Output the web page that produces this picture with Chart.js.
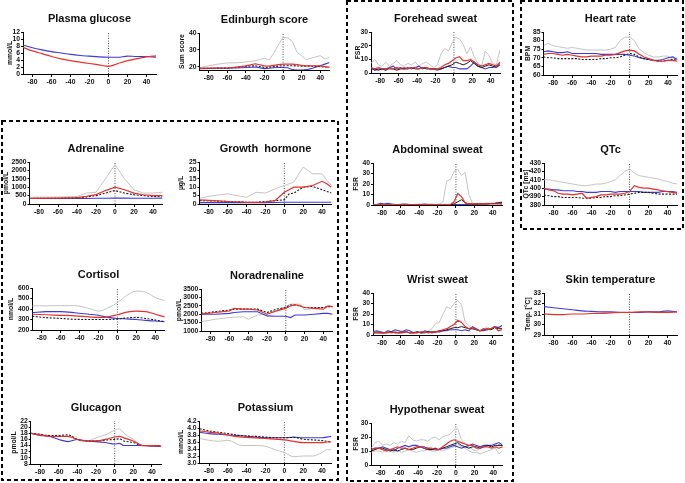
<!DOCTYPE html>
<html>
<head>
<meta charset="utf-8">
<script src="https://cdn.jsdelivr.net/npm/chart.js@4.4.1/dist/chart.umd.min.js"></script>
<style>
  body { margin: 0; background: #fff; }
  #fig { position: relative; width: 685px; height: 483px; overflow: hidden; }
  #fig canvas { position: absolute; }
</style>
</head>
<body>
<div id="fig"><canvas id="boxes" width="685" height="483" style="left:0;top:0"></canvas></div>
<script>
// time axes (minutes)
const xTicks = [-80, -60, -40, -20, 0, 20, 40];
const tSweat = [-90,-86,-82,-78,-74,-70,-66,-62,-58,-54,-50,-46,-42,-38,-34,-30,-26,-22,-18,-14,-10,-6,-2,2,6,10,14,18,22,26,30,34,38,42,46,50];
const tEcg = [-90,-85,-80,-75,-70,-65,-60,-55,-50,-45,-40,-35,-30,-25,-20,-15,-10,-5,0,5,10,15,20,25,30,35,40,45,50];

// Plasma glucose
const glucoseT = [-90,-80,-70,-60,-50,-40,-30,-20,-10,0,10,20,30,40,50];
const glucoseRed = [7.6,6.6,5.8,5.0,4.3,3.8,3.4,3.0,2.6,2.2,3.0,3.8,4.4,4.9,5.2];
const glucoseBlue = [8.3,7.5,6.9,6.4,6.0,5.6,5.3,5.1,4.9,4.8,4.8,5.1,5.0,5.0,4.8];
const glucoseTicks = [0,2,4,6,8,10,12];

// Edinburgh score
const edinT = [-90,-80,-70,-60,-50,-40,-30,-20,-15,-10,-5,0,5,10,15,20,25,30,40,45,50];
const edinGrey = [19.2,20.5,21.5,22.2,22.3,22.8,23.5,25,24,28,33,37.4,37,35,28.5,26.5,24.2,25,26.5,24.5,25.5];
const edinRed = [19,19.1,19.2,19.2,19.8,20.5,21.7,20.5,20.3,20.8,21.2,21.5,21.5,21.5,21.2,20.8,20.5,20.5,20.5,20,19.6];
const edinBlue = [18.8,18.9,19,19,19.2,19.5,19.8,18.8,19,19.3,19.5,19.5,19.3,18.2,18,18,18.2,18.8,20.5,21.5,22.5];
const edinBlack = [19,19,19.1,19.2,19.6,20.2,20.5,19.5,19.7,20,20.3,20.5,20.5,20.5,20.4,20.3,20.3,20.3,20,19.8,19.7];
const edinTicks = [20,30,40];

// Forehead sweat
const foreGrey = [7,10,6,5,8,5,7,9,6,5,7,6,8,5,7,8,6,4,6,14,18,16,22,26,25,21,14,19,12,7,5,16,13,7,6,17];
const foreRed = [4,3,4,3,3,4,3,4,3,4,3,4,4,3,4,4,3,3,3,4,6,7,9,11,12,9,9,10,8,6,5,6,7,6,5,8];
const foreBlack = [3,3,2,3,3,3,3,2,3,3,3,4,3,3,4,3,3,3,3,3,4,5,6,8,7,6,7,9,7,5,4,5,6,5,4,6];
const foreBlue = [4,2,3,3,2,4,5,3,4,3,4,3,4,5,3,4,3,3,2,3,4,5,4,4,3,3,3,5,8,5,4,3,4,4,5,7];

// Abdominal sweat
const abdGrey = [0.5,0.5,0.5,1,0.5,0.5,0.5,0.5,0.5,0.5,0.5,0.5,1,1,0.5,1,1,0.5,1,3,23,24,32,34,28,31,10,1.5,1.5,1.5,1.5,2,1.5,2,2.5,3];
const abdRed = [0.5,0.5,0.5,0.5,0.5,0.5,0.5,0.5,0.5,0.5,0.5,0.5,0.5,0.5,0.5,0.5,0.5,0.5,0.5,0.5,0.5,0.5,3,11,8,2,1,1,1,1,1,1,1,1,1,1];
const abdBlack = [0.3,0.3,0.3,0.3,0.3,0.3,0.3,0.3,0.3,0.3,0.3,0.3,0.3,0.3,0.3,0.3,0.3,0.3,0.3,0.5,0.5,0.5,1,3,5,2,1,1,1,1,1,1,1.5,1.5,2,2.5];
const abdBlue = [0.5,0.5,1.5,1,1.5,1,0.5,0.5,1,1,0.5,0.5,0.5,0.5,1,0.5,0.5,0.5,0.5,0.5,0.5,0.5,0.5,0.5,0.5,0.5,0.5,0.5,0.5,1,1,1,1.5,1.5,2,1];

// Wrist sweat
const wristGrey = [3,2,3,2,4,3,2,3,4,3,2,3,2,3,3,4,6,11,12,20,27,25,30,33,29,12,9,5,6,4,5,8,5,7,8,6];
const wristRed = [2,3,2,2,3,2,3,2,3,3,2,2,2,3,3,2,3,3,4,5,6,8,10,14,12,8,6,7,5,4,6,5,6,8,4,5];
const wristBlack = [2,2,2,2,2,3,2,2,2,3,2,2,3,2,2,3,3,3,4,4,5,6,7,7,8,7,6,6,5,4,5,6,5,7,6,6];
const wristBlue = [3,4,3,2,4,3,5,4,3,5,4,2,3,2,4,3,2,3,3,4,4,5,5,5,4,5,4,8,6,4,4,5,6,8,7,9];

// Hypothenar sweat
const hypoGreyHi = [12,16,17,14,15,14,16,15,17,16,21,18,17,18,18,17,19,20,18,20,21,22,25,26,18,15,13,11,10,12,14,14,13,12,15,12];
const hypoGreyLo = [9,10,10,9,11,10,9,10,9,10,11,10,9,10,10,11,10,10,11,10,11,12,13,15,13,12,10,9,9,8,9,10,11,12,8,10];
const hypoRed = [11,12,12,11,10,11,12,13,12,12,11,12,13,13,12,12,12,11,11,13,15,17,18,17,16,15,14,14,12,12,13,13,12,13,12,13];
const hypoBlack = [10,11,12,12,11,10,11,10,11,12,11,11,12,13,12,11,11,11,11,12,13,14,15,16,14,13,12,13,13,12,13,14,13,14,14,14];
const hypoBlue = [11,12,12,13,12,11,10,12,13,14,13,14,14,13,13,12,11,12,11,12,12,13,14,13,12,13,14,15,14,13,14,14,14,15,16,14];
const fsr30Ticks = [0,10,20,30];
const fsr40Ticks = [0,10,20,30,40];

// Heart rate
const hrGrey = [77,78.5,77,76.5,76,75.5,76,75.5,75,74.5,74.5,74.5,74.5,74.5,75,76,80,82,82,80,75,73,71.5,70.5,70.5,71,71,69,70];
const hrBlue = [73.5,74,73.5,73,73,73.5,72.5,72.5,72.5,72.5,72.5,72.5,72,72,72,72,72,72,71.5,71,70,69.5,69,68.5,68.5,69,70,70.5,69];
const hrRed = [72,72.5,72.5,72,71.5,72,71.5,71,70.5,70.5,71,71,71,71.5,71.5,72,73,74,74.5,74,72,70.5,69.5,68.5,68,68,68.5,68.5,68];
const hrBlack = [70.5,70,70,69.5,69.5,69.5,69.5,69.5,69,69,69,69,69.5,69.5,70,70,70.5,71.5,72.5,72,70.5,69.5,69,68.5,68,68,68.5,69,68.5];
const hrTicks = [60,65,70,75,80,85];

// QTc
const qtcGrey = [410,410,409,408,407,406,405,404,403,403,404,405,405,406,408,410,415,420,423,418,415,414,413,412,411,409,408,406,405];
const qtcBlue = [399,399,398,398,397,397,397,396,396,395,395,395,396,396,396,395,396,396,396,396,396,395,395,395,395,396,396,396,395];
const qtcRed = [400,398,397,394,393,393,392,393,394,388,389,390,392,392,393,393,393,394,396,403,401,400,400,399,398,397,396,395,394];
const qtcBlack = [392,391,390,390,389,389,389,389,388,388,388,389,389,390,390,391,391,392,393,394,395,395,395,394,393,393,393,393,393];
const qtcTicks = [380,390,400,410,420,430];

// Adrenaline
const hormT = [-90,-60,-40,-30,-20,-10,0,10,20,30,40,50];
const adrGrey = [400,420,450,650,700,1500,2350,1500,850,650,650,700];
const adrRed = [330,350,380,450,560,800,1000,850,650,550,500,500];
const adrBlack = [330,340,370,420,500,650,800,650,550,500,450,460];
const adrBlue = [330,330,330,330,340,340,350,350,340,340,340,350];
const adrTicks = [0,500,1000,1500,2000,2500];

// Growth hormone
const ghT = [-90,-75,-60,-45,-40,-30,-20,-10,0,5,10,20,30,40,45,50];
const ghGrey = [3.5,5,6,4.5,4,7,6.5,9,11,12,13,22,18,18,14,11];
const ghRed = [2.5,2,1.5,1.2,1,1,1.2,2,7,8.5,10,10,11,13.5,12,10];
const ghBlack = [2,1.8,1.5,1.2,1,1,1.5,2,2.5,6,6.5,10,10.5,8.5,7.5,6.5];
const ghBlue = [0.8,0.8,0.8,0.8,0.8,0.8,0.8,0.9,1,1,1,1,1,1,1,1];
const ghTicks = [0,5,10,15,20,25];

// Cortisol
const cortT = [-90,-75,-60,-45,-30,-20,-10,0,10,20,30,40,50];
const cortGrey = [430,430,432,432,405,380,410,460,530,570,560,510,480];
const cortRed = [350,345,340,335,325,320,325,345,370,380,375,350,325];
const cortBlue = [365,375,375,365,350,340,320,310,305,300,292,285,280];
const cortBlack = [330,318,310,302,300,300,300,305,315,320,310,295,280];
const cortTicks = [200,300,400,500,600];

// Noradrenaline
const norT = [-90,-75,-60,-55,-45,-40,-30,-20,-10,0,5,10,15,20,30,40,45,50];
const norGrey = [1550,1700,1800,1820,1850,1700,1950,2000,2200,2450,2600,2600,2600,2250,2350,2400,2450,2450];
const norRed = [2000,2100,2200,2350,2300,2300,2250,2000,2200,2350,2500,2550,2500,2400,2350,2300,2500,2450];
const norBlack = [2050,2150,2250,2300,2300,2300,2300,2100,2300,2400,2550,2550,2500,2400,2400,2400,2450,2450];
const norBlue = [2000,2000,2050,2100,2150,2150,2150,1900,1880,1880,1800,1950,1950,1950,2000,2050,2050,2000];
const norTicks = [1000,1500,2000,2500,3000,3500];

// Glucagon
const gcgT = [-90,-80,-70,-60,-50,-40,-30,-20,-10,0,5,10,20,30,40,50];
const gcgGrey = [18,17.5,17,17,17,16,15.5,16.5,17.5,19,19.5,18,16,14,14,14];
const gcgRed = [18,17.5,17,17,17,16,15.5,15.5,16,16.8,17,16.5,15.5,14,14,13.8];
const gcgBlack = [18,17.7,17.3,17.3,17.5,16,15.5,15.5,15.8,16,16.2,15.5,15,14,14,14];
const gcgBlue = [18,17.3,17,16,15.3,16,15.5,15.3,15,14.5,14.7,14,14,14,13.8,13.7];
const gcgTicks = [8,10,12,14,16,18,20,22];

// Potassium
const kT = [-90,-80,-70,-60,-45,-30,-20,-10,0,10,20,30,40,45,50];
const kGrey = [3.7,3.65,3.62,3.65,3.5,3.5,3.48,3.38,3.3,3.18,3.2,3.2,3.3,3.38,3.38];
const kRed = [3.92,3.88,3.85,3.8,3.74,3.72,3.7,3.68,3.66,3.62,3.58,3.58,3.58,3.6,3.6];
const kBlack = [3.98,3.92,3.88,3.84,3.78,3.76,3.74,3.72,3.72,3.73,3.68,3.66,3.64,3.62,3.6];
const kBlue = [3.88,3.84,3.82,3.8,3.78,3.74,3.72,3.72,3.72,3.74,3.72,3.72,3.72,3.74,3.76];
const kTicks = [3.0,3.2,3.4,3.6,3.8,4.0,4.2];

// Skin temperature
const skinT = [-90,-80,-70,-60,-50,-40,-30,-20,-10,0,10,20,30,40,50];
const skinRed = [31.0,30.95,30.95,31.0,31.0,31.05,31.05,31.1,31.15,31.15,31.2,31.2,31.15,31.15,31.2];
const skinBlue = [31.7,31.6,31.5,31.4,31.3,31.25,31.2,31.2,31.15,31.15,31.15,31.2,31.2,31.3,31.2];
const skinTicks = [29,30,31,32,33];

const FONT = "'Liberation Sans', Arial, sans-serif";
const TH = 22, XH = 13;
const STYLE = {
  red:   { color: '#e8302c', width: 1.2 },
  blue:  { color: '#3c3cd2', width: 1.1 },
  black: { color: '#1a1a1a', width: 1.1, dash: [2, 1.5] },
  solid: { color: '#1a1a1a', width: 1 },
  grey:  { color: '#c4c4c4', width: 1 }
};

const fig = document.getElementById('fig');

// dashed group boxes
const bx = document.getElementById('boxes').getContext('2d');
bx.strokeStyle = '#000';
bx.lineWidth = 2;
bx.setLineDash([4, 3]);
[[2, 121, 336, 359], [347, 1, 166, 480], [521, 1, 162, 228]].forEach(([x, y, w, h]) => bx.strokeRect(x, y, w, h));

function addPanel(p) {
  const [l, t, r, b] = p.area;
  const cl = Math.round(p.labelX - 4);
  const yw = l - cl;
  const cv = document.createElement('canvas');
  cv.width = Math.round(r - l + 2 * yw);
  cv.height = Math.round(b - t + TH + XH);
  cv.style.left = cl + 'px';
  cv.style.top = Math.round(t - TH) + 'px';
  fig.appendChild(cv);

  const datasets = p.lines.map(([vals, st]) => ({
    data: p.t.map((x, i) => ({ x, y: vals[i] })),
    borderColor: STYLE[st].color,
    borderWidth: STYLE[st].width,
    borderDash: STYLE[st].dash || [],
    pointRadius: 0,
    fill: false,
    cubicInterpolationMode: p.smooth ? 'monotone' : 'default',
    tension: 0
  }));
  // dotted line at time zero
  datasets.push({
    data: [{ x: 0, y: p.y[0] }, { x: 0, y: p.y[1] }],
    borderColor: '#555', borderWidth: 1, borderDash: [1, 1.5], pointRadius: 0
  });

  const tickFont = { family: FONT, size: 6.8, weight: 'bold' };
  new Chart(cv, {
    type: 'line',
    data: { datasets },
    options: {
      responsive: false, animation: false, devicePixelRatio: 1,
      layout: { padding: 0 },
      plugins: {
        legend: { display: false },
        tooltip: { enabled: false },
        title: {
          display: true, text: p.title, color: '#111',
          font: { family: FONT, size: 11, weight: 'bold', lineHeight: 1 },
          padding: { top: 3, bottom: 8 }
        }
      },
      scales: {
        x: {
          type: 'linear', min: -90, max: 50,
          afterBuildTicks: s => { s.ticks = xTicks.map(v => ({ value: v })); },
          afterFit: s => { s.height = XH; },
          border: { color: '#000', width: 1 },
          grid: { drawOnChartArea: false, color: '#000', tickLength: 3 },
          ticks: { color: '#111', font: tickFont, padding: 1, maxRotation: 0, autoSkip: false, callback: v => String(v) }
        },
        y: {
          min: p.y[0], max: p.y[1],
          afterBuildTicks: s => { s.ticks = p.yTicks.map(v => ({ value: v })); },
          afterFit: s => { s.width = yw; },
          border: { color: '#000', width: 1 },
          grid: { drawOnChartArea: false, color: '#000', tickLength: 2 },
          ticks: { color: '#111', font: tickFont, padding: 1, autoSkip: false,
                   callback: v => p.dec ? v.toFixed(p.dec) : String(v) },
          title: { display: true, text: p.yLabel, color: '#111', padding: 0,
                   font: { family: FONT, size: 6.8, weight: 'bold' } }
        },
        y2: {
          position: 'right', display: true,
          afterFit: s => { s.width = yw; },
          grid: { display: false }, border: { display: false }, ticks: { display: false }
        }
      }
    }
  });
}

const panels = [
  { title: 'Plasma glucose', yLabel: 'mmol/L', labelX: 10, area: [23, 32, 155.5, 74], y: [0, 12], yTicks: glucoseTicks,
    t: glucoseT, smooth: true, lines: [[glucoseRed, 'red'], [glucoseBlue, 'blue']] },
  { title: 'Edinburgh score', yLabel: 'Sum score', labelX: 182, area: [199.5, 33, 329.5, 70], y: [18, 40], yTicks: edinTicks,
    t: edinT, lines: [[edinRed, 'red'], [edinBlack, 'black'], [edinBlue, 'blue'], [edinGrey, 'grey']] },
  { title: 'Forehead sweat', yLabel: 'FSR', labelX: 358, area: [371, 32, 500, 73], y: [0, 30], yTicks: fsr30Ticks,
    t: tSweat, lines: [[foreRed, 'red'], [foreBlack, 'solid'], [foreBlue, 'blue'], [foreGrey, 'grey']] },
  { title: 'Heart rate', yLabel: 'BPM', labelX: 528, area: [543.5, 32, 677, 75], y: [60, 85], yTicks: hrTicks,
    t: tEcg, lines: [[hrRed, 'red'], [hrBlack, 'black'], [hrBlue, 'blue'], [hrGrey, 'grey']] },
  { title: 'Adrenaline', yLabel: 'pmol/L', labelX: 6, area: [29.5, 162, 162.5, 204], y: [0, 2500], yTicks: adrTicks,
    t: hormT, lines: [[adrRed, 'red'], [adrBlack, 'black'], [adrBlue, 'blue'], [adrGrey, 'grey']] },
  { title: 'Growth  hormone', yLabel: 'µg/L', labelX: 181, area: [199.5, 162, 331, 204], y: [0, 25], yTicks: ghTicks,
    t: ghT, lines: [[ghRed, 'red'], [ghBlack, 'black'], [ghBlue, 'blue'], [ghGrey, 'grey']] },
  { title: 'Abdominal sweat', yLabel: 'FSR', labelX: 356, area: [373, 162.7, 502, 204.3], y: [0, 40], yTicks: fsr40Ticks,
    t: tSweat, lines: [[abdRed, 'red'], [abdBlack, 'solid'], [abdBlue, 'blue'], [abdGrey, 'grey']] },
  { title: 'QTc', yLabel: 'QTc [ms]', labelX: 526, area: [544, 163, 677, 205], y: [380, 430], yTicks: qtcTicks,
    t: tEcg, lines: [[qtcRed, 'red'], [qtcBlack, 'black'], [qtcBlue, 'blue'], [qtcGrey, 'grey']] },
  { title: 'Cortisol', yLabel: 'nmol/L', labelX: 11, area: [32.3, 288, 164.5, 330], y: [200, 600], yTicks: cortTicks,
    t: cortT, smooth: true, lines: [[cortRed, 'red'], [cortBlack, 'black'], [cortBlue, 'blue'], [cortGrey, 'grey']] },
  { title: 'Noradrenaline', yLabel: 'pmol/L', labelX: 179, area: [201.3, 289, 332.7, 330.7], y: [1000, 3500], yTicks: norTicks,
    t: norT, lines: [[norRed, 'red'], [norBlack, 'black'], [norBlue, 'blue'], [norGrey, 'grey']] },
  { title: 'Wrist sweat', yLabel: 'FSR', labelX: 356, area: [373, 292.7, 502, 334.3], y: [0, 40], yTicks: fsr40Ticks,
    t: tSweat, lines: [[wristRed, 'red'], [wristBlack, 'solid'], [wristBlue, 'blue'], [wristGrey, 'grey']] },
  { title: 'Skin temperature', yLabel: 'Temp. [°C]', labelX: 528, area: [544, 293, 677, 335], y: [29, 33], yTicks: skinTicks,
    t: skinT, smooth: true, lines: [[skinRed, 'red'], [skinBlue, 'blue']] },
  { title: 'Glucagon', yLabel: 'pmol/L', labelX: 14, area: [30.7, 420.7, 161, 463.3], y: [8, 22], yTicks: gcgTicks,
    t: gcgT, smooth: true, lines: [[gcgRed, 'red'], [gcgBlack, 'black'], [gcgBlue, 'blue'], [gcgGrey, 'grey']] },
  { title: 'Potassium', yLabel: 'mmol/L', labelX: 181, area: [199.6, 421, 331, 463.3], y: [3.0, 4.2], yTicks: kTicks, dec: 1,
    t: kT, smooth: true, lines: [[kRed, 'red'], [kBlack, 'black'], [kBlue, 'blue'], [kGrey, 'grey']] },
  { title: 'Hypothenar sweat', yLabel: 'FSR', labelX: 356, area: [371.3, 422.7, 502.7, 464.3], y: [0, 30], yTicks: fsr30Ticks,
    t: tSweat, lines: [[hypoRed, 'red'], [hypoBlack, 'solid'], [hypoBlue, 'blue'], [hypoGreyHi, 'grey'], [hypoGreyLo, 'grey']] }
];

panels.forEach(addPanel);
</script>
</body>
</html>
